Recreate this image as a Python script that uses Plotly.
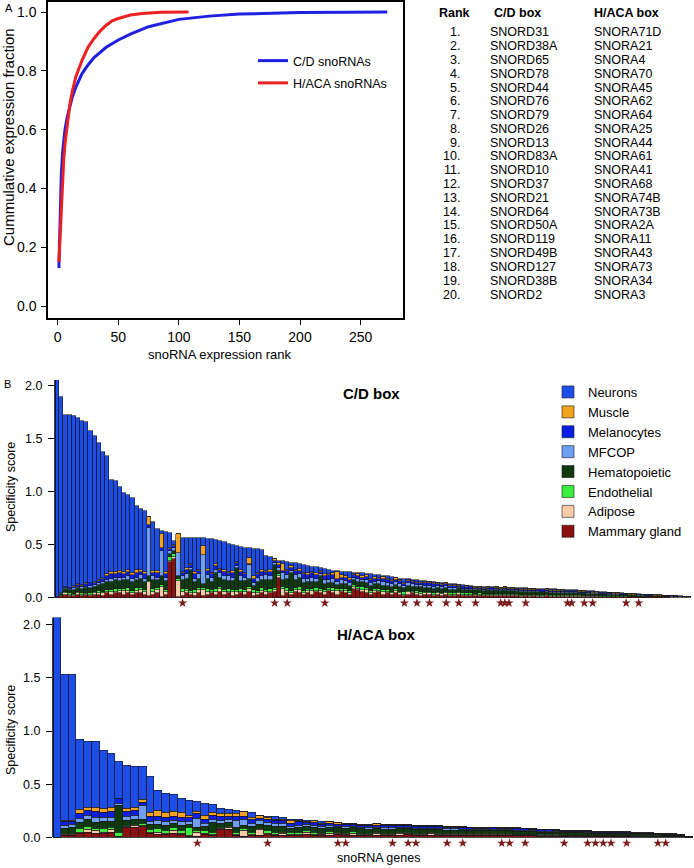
import plotly.graph_objects as go

FONT = "Liberation Sans, Arial, sans-serif"
W, H = 694, 868

# ---------------- Panel A data ----------------
cd_rank = [1, 2, 3, 4, 5, 6, 8, 10, 12, 15, 20, 25, 30, 40, 50, 60, 75, 100, 125, 150, 175, 200, 240, 272]
cd_cum = [0.13, 0.33, 0.45, 0.52, 0.57, 0.60, 0.645, 0.68, 0.71, 0.745, 0.79, 0.82, 0.845, 0.88, 0.905,
          0.925, 0.95, 0.975, 0.986, 0.993, 0.996, 0.998, 0.9995, 1.0]
haca_rank = [1, 2, 3, 4, 5, 6, 8, 10, 12, 15, 20, 25, 30, 35, 40, 45, 50, 60, 70, 85, 108]
haca_cum = [0.15, 0.25, 0.35, 0.43, 0.50, 0.55, 0.63, 0.685, 0.73, 0.78, 0.835, 0.88, 0.91, 0.935, 0.955,
            0.97, 0.978, 0.99, 0.995, 0.999, 1.0]

table_rank = ["1.", "2.", "3.", "4.", "5.", "6.", "7.", "8.", "9.", "10.",
              "11.", "12.", "13.", "14.", "15.", "16.", "17.", "18.", "19.", "20."]
table_cd = ["SNORD31", "SNORD38A", "SNORD65", "SNORD78", "SNORD44", "SNORD76", "SNORD79", "SNORD26",
            "SNORD13", "SNORD83A", "SNORD10", "SNORD37", "SNORD21", "SNORD64", "SNORD50A", "SNORD119",
            "SNORD49B", "SNORD127", "SNORD38B", "SNORD2"]
table_haca = ["SNORA71D", "SNORA21", "SNORA4", "SNORA70", "SNORA45", "SNORA62", "SNORA64", "SNORA25",
              "SNORA44", "SNORA61", "SNORA41", "SNORA68", "SNORA74B", "SNORA73B", "SNORA2A", "SNORA11",
              "SNORA43", "SNORA73", "SNORA34", "SNORA3"]

# ---------------- Panel B data: C/D box (152 snoRNAs) ----------------
cd_total = [2.05, 1.89, 1.72, 1.72, 1.71, 1.69, 1.66, 1.65, 1.57, 1.52,
            1.46, 1.37, 1.33, 1.11, 1.10, 1.04, 0.99, 0.97, 0.94, 0.86,
            0.84, 0.82, 0.76, 0.71, 0.65, 0.63, 0.62, 0.61, 0.53, 0.59,
            0.56, 0.56, 0.56, 0.56, 0.56, 0.56, 0.55, 0.55, 0.54, 0.53,
            0.52, 0.51, 0.50, 0.49, 0.48, 0.47, 0.47, 0.46, 0.46, 0.45,
            0.39, 0.38, 0.36, 0.35, 0.345, 0.34, 0.33, 0.33, 0.32, 0.31,
            0.30, 0.29, 0.285, 0.28, 0.27, 0.26, 0.25, 0.25, 0.245, 0.245,
            0.24, 0.235, 0.23, 0.23, 0.22, 0.22, 0.215, 0.21, 0.205, 0.20,
            0.195, 0.19, 0.18, 0.178, 0.175, 0.17, 0.165, 0.16, 0.155, 0.15,
            0.145, 0.14, 0.14, 0.135, 0.13, 0.125, 0.12, 0.118, 0.115, 0.11,
            0.105, 0.10, 0.10, 0.098, 0.097, 0.096, 0.095, 0.094, 0.092, 0.09,
            0.089, 0.088, 0.087, 0.086, 0.085, 0.084, 0.082, 0.081, 0.080, 0.078,
            0.077, 0.075, 0.073, 0.071, 0.069, 0.067, 0.066, 0.063, 0.060, 0.057,
            0.054, 0.051, 0.048, 0.046, 0.043, 0.040, 0.038, 0.036, 0.034, 0.032,
            0.030, 0.028, 0.026, 0.024, 0.022, 0.020, 0.018, 0.016, 0.014, 0.012, 0.011, 0.010]
cd_mammary = [0.005, 0.02, 0.03, 0.02, 0.02, 0.03, 0.02, 0.03, 0.02, 0.03,
              0.03, 0.02, 0.04, 0.03, 0.04, 0.04, 0.03, 0.04, 0.03, 0.04,
              0.04, 0.03, 0.02, 0.03, 0.04, 0.01, 0.03, 0.34, 0.36, 0.01,
              0.02, 0.04, 0.03, 0.02, 0.04, 0.02, 0.03, 0.04, 0.03, 0.05,
              0.03, 0.04, 0.02, 0.03, 0.04, 0.03, 0.05, 0.02, 0.03, 0.04,
              0.03, 0.04, 0.05, 0.19, 0.02, 0.04, 0.03, 0.05, 0.04, 0.03,
              0.04, 0.03, 0.05, 0.04, 0.03, 0.06, 0.04, 0.03, 0.05, 0.04,
              0.03, 0.08, 0.07, 0.05, 0.04, 0.03, 0.04, 0.05, 0.03, 0.04,
              0.03, 0.04, 0.03, 0.02, 0.03, 0.04, 0.03, 0.02, 0.03, 0.03,
              0.02, 0.03, 0.02, 0.03, 0.02, 0.02, 0.03, 0.02, 0.02, 0.02,
              0.02, 0.02, 0.015, 0.02, 0.015, 0.02, 0.015, 0.02, 0.015, 0.015,
              0.015, 0.01, 0.015, 0.01, 0.015, 0.01, 0.01, 0.015, 0.01, 0.01,
              0.01, 0.01, 0.01, 0.01, 0.01, 0.01, 0.008, 0.008, 0.008, 0.008,
              0.007, 0.007, 0.006, 0.006, 0.006, 0.005, 0.005, 0.005, 0.005, 0.004,
              0.004, 0.004, 0.004, 0.003, 0.003, 0.003, 0.003, 0.002, 0.002, 0.002, 0.002, 0.002]
cd_adipose = [0.0, 0.0, 0.01, 0.01, 0.005, 0.01, 0.01, 0.005, 0.01, 0.01,
              0.01, 0.02, 0.01, 0.02, 0.01, 0.02, 0.03, 0.02, 0.01, 0.02,
              0.03, 0.02, 0.13, 0.02, 0.03, 0.09, 0.02, 0.01, 0.02, 0.15,
              0.03, 0.02, 0.01, 0.02, 0.03, 0.05, 0.02, 0.01, 0.02, 0.03,
              0.02, 0.01, 0.03, 0.02, 0.01, 0.02, 0.03, 0.02, 0.01, 0.02,
              0.02, 0.01, 0.02, 0.01, 0.06, 0.02, 0.01, 0.02, 0.03, 0.01,
              0.02, 0.03, 0.01, 0.02, 0.02, 0.01, 0.02, 0.03, 0.01, 0.02,
              0.01, 0.02, 0.01, 0.02, 0.03, 0.01, 0.02, 0.01, 0.02, 0.01,
              0.01, 0.02, 0.01, 0.01, 0.02, 0.01, 0.01, 0.015, 0.01, 0.01,
              0.01, 0.01, 0.015, 0.01, 0.01, 0.01, 0.01, 0.01, 0.01, 0.01,
              0.008, 0.01, 0.008, 0.008, 0.01, 0.008, 0.008, 0.008, 0.008, 0.008,
              0.008, 0.007, 0.007, 0.007, 0.007, 0.007, 0.006, 0.006, 0.006, 0.006,
              0.006, 0.006, 0.005, 0.005, 0.005, 0.005, 0.005, 0.005, 0.004, 0.004,
              0.004, 0.004, 0.004, 0.004, 0.003, 0.003, 0.003, 0.003, 0.003, 0.003,
              0.003, 0.002, 0.002, 0.002, 0.002, 0.002, 0.002, 0.002, 0.001, 0.001, 0.001, 0.001]
cd_endothelial = [0.0, 0.005, 0.01, 0.01, 0.01, 0.01, 0.015, 0.01, 0.015, 0.01,
                  0.02, 0.015, 0.02, 0.02, 0.03, 0.02, 0.02, 0.03, 0.02, 0.03,
                  0.02, 0.02, 0.01, 0.03, 0.02, 0.02, 0.02, 0.03, 0.03, 0.02,
                  0.03, 0.02, 0.02, 0.03, 0.02, 0.02, 0.03, 0.02, 0.03, 0.02,
                  0.02, 0.03, 0.02, 0.02, 0.03, 0.02, 0.02, 0.03, 0.02, 0.03,
                  0.02, 0.03, 0.02, 0.02, 0.02, 0.03, 0.02, 0.02, 0.03, 0.02,
                  0.02, 0.02, 0.03, 0.02, 0.02, 0.02, 0.03, 0.02, 0.02, 0.02,
                  0.02, 0.02, 0.02, 0.03, 0.02, 0.02, 0.02, 0.02, 0.02, 0.02,
                  0.015, 0.02, 0.015, 0.02, 0.015, 0.015, 0.02, 0.015, 0.015, 0.015,
                  0.015, 0.012, 0.012, 0.015, 0.012, 0.012, 0.012, 0.01, 0.012, 0.01,
                  0.01, 0.01, 0.01, 0.01, 0.01, 0.01, 0.01, 0.01, 0.01, 0.01,
                  0.008, 0.008, 0.008, 0.008, 0.008, 0.008, 0.008, 0.007, 0.007, 0.007,
                  0.007, 0.007, 0.006, 0.006, 0.006, 0.006, 0.006, 0.005, 0.005, 0.005,
                  0.005, 0.005, 0.004, 0.004, 0.004, 0.004, 0.004, 0.003, 0.003, 0.003,
                  0.003, 0.003, 0.003, 0.002, 0.002, 0.002, 0.002, 0.002, 0.002, 0.001, 0.001, 0.001]
cd_hematopoietic = [0.005, 0.01, 0.03, 0.03, 0.04, 0.04, 0.04, 0.05, 0.05, 0.05,
                    0.06, 0.07, 0.08, 0.08, 0.09, 0.08, 0.09, 0.08, 0.09, 0.08,
                    0.09, 0.08, 0.04, 0.09, 0.08, 0.08, 0.09, 0.03, 0.03, 0.02,
                    0.09, 0.10, 0.20, 0.08, 0.09, 0.04, 0.10, 0.08, 0.15, 0.09,
                    0.10, 0.08, 0.09, 0.21, 0.08, 0.09, 0.08, 0.04, 0.09, 0.08,
                    0.10, 0.09, 0.22, 0.03, 0.07, 0.09, 0.17, 0.08, 0.09, 0.08,
                    0.07, 0.07, 0.06, 0.12, 0.06, 0.05, 0.05, 0.04, 0.05, 0.05,
                    0.05, 0.05, 0.045, 0.05, 0.045, 0.05, 0.045, 0.05, 0.045, 0.045,
                    0.05, 0.04, 0.05, 0.04, 0.05, 0.04, 0.04, 0.05, 0.04, 0.04,
                    0.04, 0.04, 0.035, 0.04, 0.035, 0.035, 0.035, 0.03, 0.03, 0.03,
                    0.03, 0.03, 0.03, 0.03, 0.03, 0.03, 0.03, 0.03, 0.03, 0.03,
                    0.028, 0.028, 0.028, 0.028, 0.026, 0.026, 0.026, 0.026, 0.026, 0.026,
                    0.025, 0.025, 0.024, 0.024, 0.023, 0.022, 0.022, 0.021, 0.02, 0.019,
                    0.018, 0.017, 0.016, 0.015, 0.014, 0.013, 0.012, 0.011, 0.011, 0.01,
                    0.01, 0.009, 0.008, 0.008, 0.007, 0.006, 0.006, 0.005, 0.004, 0.004, 0.003, 0.003]
cd_mfcop = [0.0, 0.005, 0.01, 0.01, 0.02, 0.01, 0.02, 0.01, 0.02, 0.02,
            0.02, 0.02, 0.02, 0.03, 0.02, 0.03, 0.02, 0.03, 0.03, 0.02,
            0.03, 0.03, 0.46, 0.03, 0.02, 0.24, 0.03, 0.03, 0.03, 0.22,
            0.03, 0.04, 0.02, 0.03, 0.04, 0.27, 0.03, 0.04, 0.03, 0.04,
            0.03, 0.04, 0.03, 0.02, 0.04, 0.03, 0.13, 0.03, 0.04, 0.03,
            0.04, 0.03, 0.02, 0.03, 0.06, 0.03, 0.02, 0.04, 0.03, 0.04,
            0.03, 0.04, 0.03, 0.02, 0.04, 0.03, 0.04, 0.03, 0.04, 0.03,
            0.03, 0.02, 0.03, 0.02, 0.03, 0.03, 0.02, 0.03, 0.03, 0.02,
            0.02, 0.03, 0.02, 0.02, 0.02, 0.02, 0.02, 0.02, 0.02, 0.02,
            0.02, 0.015, 0.02, 0.015, 0.015, 0.015, 0.012, 0.012, 0.012, 0.012,
            0.01, 0.01, 0.01, 0.01, 0.01, 0.01, 0.01, 0.01, 0.01, 0.01,
            0.01, 0.01, 0.009, 0.009, 0.009, 0.009, 0.008, 0.008, 0.008, 0.008,
            0.008, 0.008, 0.007, 0.007, 0.007, 0.006, 0.006, 0.006, 0.005, 0.005,
            0.005, 0.005, 0.004, 0.004, 0.004, 0.004, 0.003, 0.003, 0.003, 0.003,
            0.003, 0.002, 0.002, 0.002, 0.002, 0.002, 0.002, 0.001, 0.001, 0.001, 0.001, 0.001]
cd_melanocytes = [0.0, 0.005, 0.01, 0.01, 0.01, 0.02, 0.01, 0.02, 0.02, 0.02,
                  0.02, 0.03, 0.03, 0.04, 0.03, 0.04, 0.03, 0.04, 0.03, 0.04,
                  0.03, 0.04, 0.02, 0.03, 0.04, 0.03, 0.03, 0.02, 0.02, 0.0,
                  0.03, 0.04, 0.03, 0.04, 0.03, 0.0, 0.04, 0.03, 0.04, 0.03,
                  0.04, 0.03, 0.04, 0.03, 0.04, 0.03, 0.01, 0.04, 0.03, 0.04,
                  0.03, 0.04, 0.02, 0.03, 0.02, 0.04, 0.03, 0.04, 0.03, 0.04,
                  0.03, 0.04, 0.03, 0.02, 0.03, 0.04, 0.03, 0.03, 0.02, 0.03,
                  0.03, 0.02, 0.03, 0.02, 0.03, 0.03, 0.03, 0.02, 0.03, 0.03,
                  0.03, 0.02, 0.03, 0.02, 0.02, 0.02, 0.02, 0.02, 0.02, 0.02,
                  0.02, 0.02, 0.02, 0.02, 0.015, 0.015, 0.015, 0.015, 0.015, 0.015,
                  0.012, 0.012, 0.012, 0.012, 0.012, 0.012, 0.012, 0.012, 0.012, 0.012,
                  0.01, 0.01, 0.01, 0.01, 0.01, 0.01, 0.01, 0.01, 0.01, 0.01,
                  0.01, 0.009, 0.009, 0.009, 0.008, 0.008, 0.008, 0.008, 0.007, 0.007,
                  0.006, 0.006, 0.006, 0.006, 0.005, 0.005, 0.005, 0.004, 0.004, 0.004,
                  0.004, 0.003, 0.003, 0.003, 0.003, 0.002, 0.002, 0.002, 0.002, 0.001, 0.001, 0.001]
cd_muscle = [0.0, 0.0, 0.0, 0.005, 0.005, 0.005, 0.005, 0.01, 0.005, 0.01,
             0.01, 0.01, 0.02, 0.02, 0.02, 0.02, 0.02, 0.02, 0.02, 0.03,
             0.02, 0.02, 0.08, 0.02, 0.02, 0.13, 0.02, 0.01, 0.01, 0.18,
             0.01, 0.02, 0.01, 0.02, 0.01, 0.09, 0.02, 0.01, 0.02, 0.01,
             0.02, 0.01, 0.02, 0.01, 0.02, 0.01, 0.05, 0.02, 0.01, 0.02,
             0.01, 0.02, 0.01, 0.02, 0.07, 0.01, 0.02, 0.01, 0.02, 0.01,
             0.02, 0.01, 0.02, 0.01, 0.02, 0.01, 0.02, 0.06, 0.02, 0.01,
             0.02, 0.01, 0.02, 0.01, 0.02, 0.01, 0.02, 0.01, 0.02, 0.01,
             0.01, 0.015, 0.01, 0.01, 0.015, 0.01, 0.01, 0.01, 0.015, 0.01,
             0.01, 0.01, 0.01, 0.01, 0.01, 0.01, 0.01, 0.008, 0.008, 0.008,
             0.007, 0.007, 0.007, 0.007, 0.007, 0.007, 0.007, 0.007, 0.007, 0.007,
             0.006, 0.006, 0.006, 0.006, 0.006, 0.006, 0.006, 0.006, 0.006, 0.006,
             0.005, 0.005, 0.005, 0.005, 0.005, 0.005, 0.005, 0.005, 0.005, 0.005,
             0.004, 0.004, 0.004, 0.004, 0.004, 0.003, 0.003, 0.003, 0.003, 0.003,
             0.002, 0.002, 0.002, 0.002, 0.002, 0.002, 0.001, 0.001, 0.001, 0.001, 0.001, 0.001]
cd_star_bars = [31, 53, 56, 65, 84, 87, 90, 94, 97, 101, 107, 108, 109, 113, 123, 124, 127, 129, 137, 140]

# ---------------- Panel B data: H/ACA box (82 snoRNAs) ----------------
haca_total = [2.07, 1.53, 1.53, 0.92, 0.90, 0.90, 0.82, 0.79, 0.71, 0.68,
              0.67, 0.67, 0.57, 0.44, 0.415, 0.40, 0.37, 0.345, 0.34, 0.32,
              0.31, 0.27, 0.26, 0.25, 0.245, 0.23, 0.21, 0.20, 0.195, 0.185,
              0.17, 0.17, 0.155, 0.155, 0.15, 0.14, 0.14, 0.13, 0.13, 0.125,
              0.125, 0.125, 0.122, 0.116, 0.116, 0.11, 0.108, 0.108, 0.107, 0.107,
              0.10, 0.10, 0.094, 0.094, 0.094, 0.094, 0.09, 0.09, 0.09, 0.09,
              0.085, 0.079, 0.077, 0.075, 0.073, 0.062, 0.062, 0.060, 0.057, 0.050,
              0.050, 0.050, 0.050, 0.050, 0.041, 0.040, 0.038, 0.036, 0.031, 0.030,
              0.024, 0.010]
haca_mammary = [0.0, 0.02, 0.02, 0.04, 0.05, 0.04, 0.04, 0.05, 0.01, 0.09,
                0.09, 0.10, 0.04, 0.03, 0.03, 0.04, 0.03, 0.01, 0.01, 0.03,
                0.02, 0.07, 0.07, 0.02, 0.01, 0.02, 0.02, 0.03, 0.02, 0.02,
                0.02, 0.02, 0.03, 0.02, 0.02, 0.02, 0.03, 0.02, 0.02, 0.02,
                0.02, 0.02, 0.02, 0.02, 0.02, 0.03, 0.02, 0.02, 0.02, 0.02,
                0.02, 0.02, 0.02, 0.015, 0.015, 0.015, 0.02, 0.015, 0.015, 0.015,
                0.015, 0.015, 0.012, 0.012, 0.012, 0.01, 0.01, 0.01, 0.01, 0.008,
                0.008, 0.008, 0.008, 0.008, 0.006, 0.006, 0.006, 0.006, 0.005, 0.005,
                0.004, 0.002]
haca_adipose = [0.0, 0.01, 0.01, 0.01, 0.02, 0.02, 0.01, 0.02, 0.0, 0.01,
                0.02, 0.01, 0.01, 0.02, 0.01, 0.02, 0.01, 0.01, 0.04, 0.01,
                0.01, 0.01, 0.02, 0.01, 0.05, 0.01, 0.05, 0.01, 0.01, 0.02,
                0.01, 0.01, 0.02, 0.01, 0.01, 0.02, 0.01, 0.01, 0.02, 0.01,
                0.01, 0.015, 0.01, 0.01, 0.02, 0.01, 0.01, 0.01, 0.015, 0.01,
                0.01, 0.01, 0.01, 0.01, 0.01, 0.01, 0.01, 0.01, 0.01, 0.008,
                0.008, 0.008, 0.008, 0.007, 0.007, 0.006, 0.006, 0.006, 0.006, 0.005,
                0.005, 0.005, 0.005, 0.005, 0.004, 0.004, 0.004, 0.004, 0.003, 0.003,
                0.002, 0.001]
haca_endothelial = [0.0, 0.01, 0.01, 0.03, 0.03, 0.02, 0.03, 0.02, 0.04, 0.01,
                    0.01, 0.02, 0.02, 0.03, 0.02, 0.03, 0.02, 0.07, 0.01, 0.02,
                    0.02, 0.01, 0.01, 0.02, 0.02, 0.02, 0.01, 0.02, 0.02, 0.01,
                    0.015, 0.015, 0.01, 0.015, 0.01, 0.015, 0.01, 0.01, 0.015, 0.01,
                    0.01, 0.01, 0.01, 0.01, 0.01, 0.01, 0.01, 0.01, 0.01, 0.01,
                    0.008, 0.008, 0.008, 0.008, 0.008, 0.008, 0.008, 0.008, 0.008, 0.008,
                    0.007, 0.007, 0.006, 0.006, 0.006, 0.005, 0.005, 0.005, 0.005, 0.004,
                    0.004, 0.004, 0.004, 0.004, 0.003, 0.003, 0.003, 0.003, 0.003, 0.003,
                    0.002, 0.001]
haca_hematopoietic = [0.0, 0.04, 0.05, 0.06, 0.07, 0.06, 0.07, 0.06, 0.25, 0.05,
                      0.05, 0.04, 0.05, 0.04, 0.05, 0.04, 0.05, 0.03, 0.03, 0.04,
                      0.09, 0.04, 0.04, 0.04, 0.03, 0.05, 0.04, 0.05, 0.05, 0.05,
                      0.04, 0.05, 0.04, 0.05, 0.04, 0.04, 0.04, 0.04, 0.035, 0.04,
                      0.035, 0.035, 0.035, 0.035, 0.03, 0.03, 0.03, 0.03, 0.03, 0.03,
                      0.03, 0.03, 0.028, 0.028, 0.028, 0.028, 0.027, 0.027, 0.027, 0.027,
                      0.026, 0.025, 0.024, 0.024, 0.023, 0.02, 0.02, 0.02, 0.019, 0.017,
                      0.017, 0.017, 0.017, 0.017, 0.014, 0.014, 0.013, 0.012, 0.011, 0.011,
                      0.009, 0.004]
haca_mfcop = [0.0, 0.03, 0.03, 0.04, 0.04, 0.05, 0.04, 0.04, 0.02, 0.04,
              0.04, 0.13, 0.03, 0.04, 0.04, 0.03, 0.04, 0.03, 0.09, 0.03,
              0.03, 0.03, 0.03, 0.07, 0.06, 0.03, 0.04, 0.03, 0.03, 0.03,
              0.02, 0.02, 0.02, 0.02, 0.02, 0.02, 0.015, 0.02, 0.015, 0.015,
              0.015, 0.015, 0.015, 0.015, 0.015, 0.012, 0.012, 0.012, 0.012, 0.012,
              0.012, 0.012, 0.012, 0.012, 0.012, 0.01, 0.01, 0.01, 0.01, 0.01,
              0.01, 0.009, 0.009, 0.009, 0.008, 0.007, 0.007, 0.007, 0.006, 0.006,
              0.006, 0.006, 0.006, 0.006, 0.005, 0.005, 0.005, 0.004, 0.004, 0.004,
              0.003, 0.001]
haca_melanocytes = [0.0, 0.04, 0.03, 0.045, 0.04, 0.05, 0.04, 0.05, 0.05, 0.04,
                    0.04, 0.03, 0.05, 0.04, 0.04, 0.04, 0.04, 0.04, 0.04, 0.04,
                    0.04, 0.04, 0.03, 0.04, 0.03, 0.04, 0.02, 0.03, 0.03, 0.03,
                    0.03, 0.03, 0.02, 0.025, 0.025, 0.02, 0.02, 0.02, 0.02, 0.02,
                    0.02, 0.02, 0.02, 0.018, 0.018, 0.016, 0.016, 0.016, 0.016, 0.016,
                    0.015, 0.015, 0.015, 0.015, 0.014, 0.014, 0.014, 0.014, 0.014, 0.014,
                    0.013, 0.012, 0.012, 0.012, 0.012, 0.01, 0.01, 0.01, 0.009, 0.008,
                    0.008, 0.008, 0.008, 0.008, 0.007, 0.007, 0.006, 0.006, 0.005, 0.005,
                    0.004, 0.001]
haca_muscle = [0.0, 0.01, 0.01, 0.04, 0.03, 0.04, 0.04, 0.04, 0.0, 0.03,
               0.03, 0.03, 0.03, 0.05, 0.04, 0.04, 0.04, 0.02, 0.02, 0.04,
               0.02, 0.02, 0.02, 0.02, 0.04, 0.02, 0.03, 0.02, 0.01, 0.01,
               0.02, 0.01, 0.01, 0.015, 0.01, 0.01, 0.015, 0.01, 0.01, 0.01,
               0.01, 0.012, 0.01, 0.01, 0.01, 0.01, 0.01, 0.01, 0.01, 0.01,
               0.008, 0.008, 0.008, 0.008, 0.008, 0.008, 0.008, 0.008, 0.008, 0.008,
               0.007, 0.007, 0.007, 0.007, 0.007, 0.006, 0.006, 0.006, 0.006, 0.006,
               0.005, 0.005, 0.005, 0.005, 0.005, 0.004, 0.004, 0.004, 0.004, 0.004,
               0.003, 0.001]
haca_star_bars = [19, 28, 37, 38, 44, 46, 47, 51, 53, 58, 59, 61, 66, 69, 70, 71, 72, 74, 78, 79]

tissue_names = ["Mammary gland", "Adipose", "Endothelial", "Hematopoietic", "MFCOP", "Melanocytes", "Muscle", "Neurons"]
tissue_colors = ["#8c1010", "#f9caa9", "#3df03d", "#0d3b0d", "#6f9ff2", "#0a1ee8", "#f5a21f", "#1d4de8"]

cd_parts = [cd_mammary, cd_adipose, cd_endothelial, cd_hematopoietic, cd_mfcop, cd_melanocytes, cd_muscle]
haca_parts = [haca_mammary, haca_adipose, haca_endothelial, haca_hematopoietic, haca_mfcop, haca_melanocytes, haca_muscle]
for p in cd_parts:
    assert len(p) == len(cd_total), len(p)
for p in haca_parts:
    assert len(p) == len(haca_total), len(p)

cd_neurons = [max(t - sum(p[i] for p in cd_parts), 0.0) for i, t in enumerate(cd_total)]
haca_neurons = [max(t - sum(p[i] for p in haca_parts), 0.0) for i, t in enumerate(haca_total)]
cd_series = cd_parts + [cd_neurons]
haca_series = haca_parts + [haca_neurons]
cd_x = list(range(1, len(cd_total) + 1))
haca_x = list(range(1, len(haca_total) + 1))


def fx(px):
    return px / W


def fy(py):
    return 1 - py / H


CD_TOP, HACA_TOP = 2.05, 2.07
CD_BOTTOM, HACA_BOTTOM = -0.08, -0.08
PPU = 106.2  # pixels per score unit in panel B

fig = go.Figure()

# Panel A curves
fig.add_trace(go.Scatter(x=cd_rank, y=cd_cum, mode="lines", name="C/D snoRNAs", legendgroup="cd",
                         line=dict(color="#1f1fe0", width=3), xaxis="x", yaxis="y", legend="legend"))
fig.add_trace(go.Scatter(x=haca_rank, y=haca_cum, mode="lines", name="H/ACA snoRNAs", legendgroup="haca",
                         line=dict(color="#ec2020", width=3), xaxis="x", yaxis="y", legend="legend"))

# Panel B stacked bars
for name, color, cvals, hvals in zip(tissue_names, tissue_colors, cd_series, haca_series):
    fig.add_trace(go.Bar(x=cd_x, y=cvals, name=name, width=1,
                         marker=dict(color=color, line=dict(color="#1a1a1a", width=0.6)),
                         xaxis="x2", yaxis="y2", legend="legend2", showlegend=True))
    fig.add_trace(go.Bar(x=haca_x, y=hvals, name=name, width=1,
                         marker=dict(color=color, line=dict(color="#1a1a1a", width=0.6)),
                         xaxis="x3", yaxis="y3", showlegend=False))

STAR_COLOR = "#7a1c1c"
fig.add_trace(go.Scatter(x=cd_star_bars, y=[-0.05] * len(cd_star_bars), mode="markers",
                         marker=dict(symbol="star", size=7, color=STAR_COLOR),
                         xaxis="x2", yaxis="y2", cliponaxis=False, showlegend=False))
fig.add_trace(go.Scatter(x=haca_star_bars, y=[-0.055] * len(haca_star_bars), mode="markers",
                         marker=dict(symbol="star", size=7, color=STAR_COLOR),
                         xaxis="x3", yaxis="y3", cliponaxis=False, showlegend=False))

axis_common = dict(showgrid=False, color="black", linecolor="black")

annotations = []
# Table
annotations.append(dict(text="<b>Rank</b>", x=fx(455), y=fy(13), xanchor="center"))
annotations.append(dict(text="<b>C/D box</b>", x=fx(492), y=fy(13), xanchor="left"))
annotations.append(dict(text="<b>H/ACA box</b>", x=fx(592), y=fy(13), xanchor="left"))
for i, (r, c, h) in enumerate(zip(table_rank, table_cd, table_haca)):
    yy = fy(32.3 + 13.8 * i)
    annotations.append(dict(text=r, x=fx(462), y=yy, xanchor="right"))
    annotations.append(dict(text=c, x=fx(488), y=yy, xanchor="left"))
    annotations.append(dict(text=h, x=fx(592), y=yy, xanchor="left"))
for a in annotations:
    a.update(xref="paper", yref="paper", yanchor="middle", showarrow=False,
             font=dict(family=FONT, size=12.5, color="black"))

extra = [
    dict(text="A", x=fx(9), y=fy(8), font=dict(size=11)),
    dict(text="B", x=fx(8), y=fy(384), font=dict(size=11)),
    dict(text="Cummulative expression fraction", x=fx(9), y=fy(137), textangle=-90, font=dict(size=15)),
    dict(text="snoRNA expression rank", x=fx(220), y=fy(355), font=dict(size=13)),
    dict(text="<b>C/D box</b>", x=fx(371), y=fy(393), font=dict(size=15)),
    dict(text="<b>H/ACA box</b>", x=fx(376), y=fy(634), font=dict(size=15)),
    dict(text="Specificity score", x=fx(11), y=fy(487), textangle=-90, font=dict(size=12.5)),
    dict(text="Specificity score", x=fx(11), y=fy(730), textangle=-90, font=dict(size=12.5)),
    dict(text="snoRNA genes", x=fx(378), y=fy(858), font=dict(size=12.5)),
]
for a in extra:
    a.update(xref="paper", yref="paper", xanchor="center", yanchor="middle", showarrow=False)
    a["font"].update(family=FONT, color="black")
annotations += extra

# vertical axis lines of panel B (stop at 0, like the reference)
shapes = [
    dict(type="line", xref="x2 domain", yref="y2", x0=0, x1=0, y0=0, y1=CD_TOP,
         line=dict(color="black", width=1.5)),
    dict(type="line", xref="x3 domain", yref="y3", x0=0, x1=0, y0=0, y1=HACA_TOP,
         line=dict(color="black", width=1.5)),
]

cd_zero_px = 597.7
haca_zero_px = 837.3

fig.update_layout(
    width=W, height=H,
    margin=dict(l=0, r=0, t=0, b=0),
    paper_bgcolor="white", plot_bgcolor="white",
    font=dict(family=FONT, color="black", size=12),
    barmode="stack", bargap=0,
    xaxis=dict(domain=[fx(48), fx(403)], range=[-8, 285], anchor="y", zeroline=False,
               tickvals=[0, 50, 100, 150, 200, 250], ticks="outside", ticklen=5, tickwidth=1.2,
               showline=True, linewidth=1.5, mirror=True, tickfont=dict(size=14), **axis_common),
    yaxis=dict(domain=[fy(318), fy(2)], range=[-0.04, 1.034], anchor="x", zeroline=False,
               tickvals=[0, 0.2, 0.4, 0.6, 0.8, 1.0], tickformat=".1f", ticks="outside", ticklen=5,
               tickwidth=1.2, showline=True, linewidth=1.5, mirror=True, tickfont=dict(size=14),
               ticklabelstandoff=2, **axis_common),
    xaxis2=dict(domain=[fx(55), fx(691)], range=[0.5, len(cd_total) + 0.5], anchor="y2", zeroline=False,
                showticklabels=False, ticks="", showline=False, **axis_common),
    yaxis2=dict(domain=[fy(cd_zero_px - CD_BOTTOM * PPU), fy(cd_zero_px - CD_TOP * PPU)],
                range=[CD_BOTTOM, CD_TOP], anchor="x2",
                zeroline=True, zerolinecolor="#8a8a8a", zerolinewidth=1,
                tickvals=[0, 0.5, 1.0, 1.5, 2.0], tickformat=".1f", ticks="outside", ticklen=6,
                tickwidth=1.2, showline=False, tickfont=dict(size=12.5), ticklabelstandoff=3, **axis_common),
    xaxis3=dict(domain=[fx(53), fx(693)], range=[0.5, len(haca_total) + 0.5], anchor="y3", zeroline=False,
                showticklabels=False, ticks="", showline=False, **axis_common),
    yaxis3=dict(domain=[fy(haca_zero_px - HACA_BOTTOM * PPU), fy(haca_zero_px - HACA_TOP * PPU)],
                range=[HACA_BOTTOM, HACA_TOP], anchor="x3",
                zeroline=True, zerolinecolor="#8a8a8a", zerolinewidth=1,
                tickvals=[0, 0.5, 1.0, 1.5, 2.0], tickformat=".1f", ticks="outside", ticklen=6,
                tickwidth=1.2, showline=False, tickfont=dict(size=12.5), ticklabelstandoff=3, **axis_common),
    legend=dict(x=fx(253), y=fy(46), xanchor="left", yanchor="top", bgcolor="rgba(0,0,0,0)",
                traceorder="grouped", tracegroupgap=3,
                font=dict(family=FONT, size=12.5, color="black"), itemwidth=30),
    legend2=dict(x=fx(548), y=fy(377), xanchor="left", yanchor="top", traceorder="reversed",
                 bgcolor="rgba(0,0,0,0)", font=dict(family=FONT, size=13, color="black"),
                 itemwidth=30, tracegroupgap=0),
    shapes=shapes,
    annotations=annotations,
)

# remove the browser's default 8px body margin so the figure sits at the page origin
fig.write_html("out.html",
               config={"displayModeBar": False},
               post_script="document.body.style.margin='0';document.body.style.padding='0';")
